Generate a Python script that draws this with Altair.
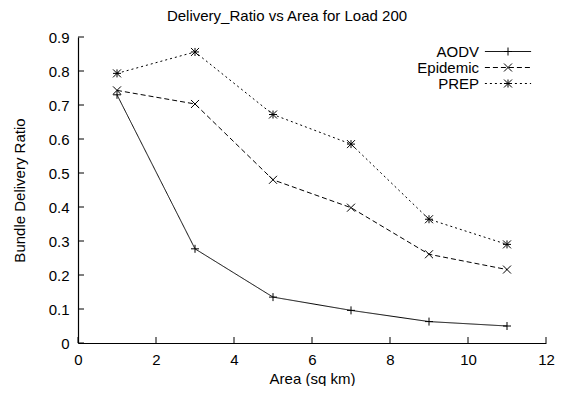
import altair as alt
import pandas as pd

# ---- data ----
area = [1, 3, 5, 7, 9, 11]
aodv = [0.730, 0.277, 0.135, 0.096, 0.063, 0.050]
epidemic = [0.743, 0.703, 0.480, 0.398, 0.261, 0.216]
prep = [0.793, 0.856, 0.672, 0.585, 0.364, 0.290]
series_names = ["AODV", "Epidemic", "PREP"]
x_ticks = [0, 2, 4, 6, 8, 10, 12]
y_ticks = [0, 0.1, 0.2, 0.3, 0.4, 0.5, 0.6, 0.7, 0.8, 0.9]

rows = []
for name, vals in zip(series_names, [aodv, epidemic, prep]):
    for a, v in zip(area, vals):
        rows.append({"area": a, "ratio": v, "series": name, "marker": name})
df = pd.DataFrame(rows)

FONT = "Liberation Sans"
FS = 15
W, H = 468, 306

PLUS = "M-1,0L1,0M0,-1L0,1"
CROSS = "M-1,-1L1,1M-1,1L1,-1"
STAR = "M-1,0L1,0M0,-1L0,1M-1,-1L1,1M-1,1L1,-1"
LINE_SAMPLE = "M-3.3,0L3.3,0"

xscale = alt.Scale(domain=[0, 12], nice=False, zero=False)
yscale = alt.Scale(domain=[0, 0.9], nice=False)

x_enc = alt.X("area:Q", scale=xscale,
              axis=alt.Axis(values=x_ticks, title="Area (sq km)", ticks=False, grid=False,
                            labelPadding=9, titlePadding=4, domainColor="black",
                            domainWidth=1.2, labelFlush=False))
y_enc = alt.Y("ratio:Q", scale=yscale,
              axis=alt.Axis(values=y_ticks, title="Bundle Delivery Ratio", ticks=False,
                            grid=False, format="~g", labelPadding=9, titlePadding=21,
                            domainColor="black", domainWidth=1.2, labelFlush=False))

LEG_X, LEG_Y = 422.5, 7
ROW_PAD = 0
LAB_OFF = {"expr": "-36.5"}

lines = alt.Chart(df).mark_line(color="black", strokeWidth=1).encode(
    x=x_enc, y=y_enc,
    strokeDash=alt.StrokeDash(
        "series:N",
        scale=alt.Scale(domain=series_names, range=[[1, 0], [5, 3], [2, 3]]),
        legend=alt.Legend(orient="none", legendX=LEG_X, legendY=LEG_Y, title=None,
                          symbolType=LINE_SAMPLE, symbolSize=196, symbolStrokeColor="black",
                          symbolStrokeWidth=1, rowPadding=ROW_PAD, padding=0,
                          labelAlign="right", labelOffset=LAB_OFF, labelFont=FONT,
                          labelFontSize=FS, labelColor="black")))

points = alt.Chart(df).mark_point(filled=False, color="black", strokeWidth=1, size=64,
                                  opacity=1).encode(
    x=x_enc, y=y_enc,
    shape=alt.Shape(
        "marker:N",
        scale=alt.Scale(range=[PLUS, CROSS, STAR]),
        legend=alt.Legend(orient="none", legendX=LEG_X, legendY=LEG_Y, title=None,
                          symbolSize=64, symbolStrokeColor="black", symbolStrokeWidth=1,
                          symbolFillColor="transparent", symbolOpacity=1,
                          rowPadding=ROW_PAD, padding=0, labelFont=FONT,
                          labelFontSize=FS, labelAlign="right",
                          labelOffset=LAB_OFF, labelOpacity=0)))

xt = alt.Chart(pd.DataFrame({"area": x_ticks})).mark_rule(color="black", strokeWidth=1).encode(
    x=x_enc, y=alt.value(H), y2=alt.value(H - 6))
yt = alt.Chart(pd.DataFrame({"ratio": y_ticks})).mark_rule(color="black", strokeWidth=1).encode(
    y=y_enc, x=alt.value(0), x2=alt.value(6))

chart = alt.layer(lines, points, xt, yt).properties(
    width=W, height=H,
    padding={"left": 70, "top": 29, "right": 21, "bottom": 43},
    autosize=alt.AutoSizeParams(type="none"),
    title=alt.TitleParams("Delivery_Ratio vs Area for Load 200", font=FONT, fontSize=FS,
                          fontWeight="normal", color="black", anchor="middle",
                          frame="group", dx=-25, offset=6),
).configure_view(stroke=None).configure_axis(
    labelFont=FONT, labelFontSize=FS, labelColor="black",
    titleFont=FONT, titleFontSize=FS, titleFontWeight="normal", titleColor="black",
)

chart.save("out.html", embed_options={"renderer": "svg", "actions": False})
